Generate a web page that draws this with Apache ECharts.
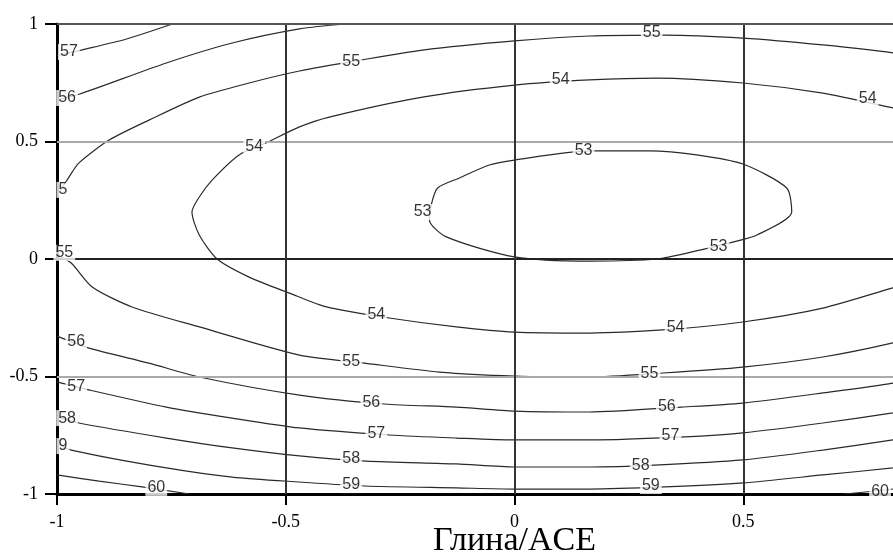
<!DOCTYPE html>
<html><head><meta charset="utf-8">
<script src="https://cdn.jsdelivr.net/npm/echarts@6/dist/echarts.min.js"></script>
<style>html,body{margin:0;padding:0;background:#fff;overflow:hidden}#c{width:893px;height:552px}</style>
</head><body><div id="c"></div>
<script>
// Axis ticks
const xTicks = [-1, -0.5, 0, 0.5, 1];
const yTicks = [-1, -0.5, 0, 0.5, 1];
const xName = 'Глина/ACE';

// Reference lines inside the plot
const darkY = [0];
const lightY = [-0.5, 0.5];
const darkX = [-0.5, 0, 0.5];
const frameY = [1];

// Contour lines (x, y)
const c53 = [[-0.182,0.230],[-0.168,0.302],[-0.120,0.345],[-0.055,0.400],[0,0.421],[0.164,0.460],[0.295,0.460],[0.398,0.443],[0.499,0.404],[0.595,0.302],[0.606,0.200],[0.530,0.102],[0.477,0.072],[0.405,0.038],[0.311,0],[0.164,-0.009],[0,0.009],[-0.149,0.094],[-0.186,0.166],[-0.182,0.230]];
const c54 = [[1.0,-0.03],[0.827,-0.123],[0.674,-0.209],[0.499,-0.268],[0.324,-0.302],[0.164,-0.315],[0,-0.311],[-0.127,-0.289],[-0.274,-0.251],[-0.411,-0.204],[-0.492,-0.145],[-0.580,-0.077],[-0.650,0],[-0.689,0.102],[-0.705,0.200],[-0.689,0.264],[-0.661,0.336],[-0.602,0.443],[-0.543,0.494],[-0.470,0.562],[-0.405,0.604],[-0.201,0.689],[0,0.740],[0.164,0.762],[0.311,0.770],[0.499,0.749],[0.674,0.706],[0.799,0.655],[0.827,0.643],[1.0,0.56]];
const c55a = [[-1,0.272],[-0.978,0.336],[-0.952,0.409],[-0.886,0.506],[-0.799,0.591],[-0.689,0.689],[-0.580,0.749],[-0.470,0.800],[-0.335,0.847],[-0.201,0.889],[0,0.928],[0.164,0.949],[0.328,0.953],[0.499,0.940],[0.674,0.911],[0.827,0.877],[1.0,0.82]];
const c55b = [[-1,0.017],[-0.969,-0.017],[-0.923,-0.119],[-0.836,-0.204],[-0.689,-0.289],[-0.470,-0.409],[-0.328,-0.443],[-0.164,-0.481],[0,-0.498],[0.164,-0.502],[0.324,-0.485],[0.499,-0.460],[0.674,-0.417],[0.827,-0.357],[1.0,-0.27]];
const c56a = [[-1,0.677],[-0.950,0.702],[-0.761,0.834],[-0.617,0.919],[-0.470,0.979],[-0.372,1.0]];
const c56b = [[-1,-0.328],[-0.930,-0.379],[-0.799,-0.443],[-0.689,-0.502],[-0.470,-0.579],[-0.284,-0.617],[-0.127,-0.630],[0,-0.647],[0.164,-0.651],[0.365,-0.630],[0.499,-0.613],[0.674,-0.570],[0.827,-0.528],[1.0,-0.46]];
const c57a = [[-1,0.865],[-0.947,0.889],[-0.85,0.935],[-0.748,1.0]];
const c57b = [[-1,-0.523],[-0.930,-0.557],[-0.761,-0.630],[-0.617,-0.677],[-0.470,-0.719],[-0.274,-0.749],[-0.127,-0.762],[0,-0.770],[0.164,-0.770],[0.372,-0.757],[0.499,-0.740],[0.674,-0.698],[0.827,-0.655],[1.0,-0.60]];
const c58 = [[-1,-0.672],[-0.952,-0.698],[-0.761,-0.762],[-0.617,-0.804],[-0.470,-0.838],[-0.324,-0.860],[-0.127,-0.872],[0,-0.885],[0.164,-0.885],[0.306,-0.877],[0.499,-0.855],[0.674,-0.813],[0.827,-0.770],[1.0,-0.72]];
const c59 = [[-1,-0.783],[-0.969,-0.813],[-0.761,-0.889],[-0.617,-0.928],[-0.470,-0.949],[-0.328,-0.966],[-0.127,-0.974],[0,-0.979],[0.164,-0.979],[0.328,-0.970],[0.499,-0.953],[0.674,-0.919],[0.827,-0.889],[1.0,-0.85]];
const c60a = [[-1,-0.919],[-0.908,-0.945],[-0.814,-0.970],[-0.711,-1.0]];
const c60b = [[0.72,-1.0],[0.83,-0.978],[1.0,-0.93]];

// Contour labels: [x, y, text]
const contourLabels = [
  [-0.201,0.200,'53'],[0.151,0.460,'53'],[0.446,0.051,'53'],
  [-0.569,0.477,'54'],[-0.302,-0.238,'54'],[0.352,-0.294,'54'],[0.101,0.762,'54'],[0.772,0.681,'54'],
  [-0.987,0.294,'5'],[-0.357,0.838,'55'],[0.300,0.962,'55'],[-0.984,0.026,'55'],[-0.357,-0.438,'55'],[0.295,-0.489,'55'],
  [-0.978,0.685,'56'],[-0.958,-0.353,'56'],[-0.313,-0.613,'56'],[0.333,-0.630,'56'],
  [-0.974,0.881,'57'],[-0.958,-0.545,'57'],[-0.302,-0.745,'57'],[0.341,-0.753,'57'],
  [-0.978,-0.677,'58'],[-0.357,-0.851,'58'],[0.276,-0.877,'58'],
  [-0.987,-0.796,'9'],[-0.357,-0.962,'59'],[0.298,-0.966,'59'],
  [-0.783,-0.974,'60'],[0.799,-0.988,'60']
];

const contours = [c53,c54,c55a,c55b,c56a,c56b,c57a,c57b,c58,c59,c60a,c60b];

const chart = echarts.init(document.getElementById('c'), null, {renderer:'canvas'});
const serif = 'Liberation Serif';
const ml = [];
darkY.forEach(v => ml.push({yAxis:v, lineStyle:{color:'#222', width:2, type:'solid'}}));
lightY.forEach(v => ml.push({yAxis:v, lineStyle:{color:'#aaa', width:2, type:'solid'}}));
darkX.forEach(v => ml.push({xAxis:v, lineStyle:{color:'#333', width:2, type:'solid'}}));
frameY.forEach(v => ml.push({yAxis:v, lineStyle:{color:'#555', width:2, type:'solid'}}));

const series = [{
  type:'line', data:[], z:1, silent:true,
  markLine:{silent:true, symbol:['none','none'], label:{show:false}, data:ml, animation:false}
}];
contours.forEach(c => series.push({
  type:'line', data:c, showSymbol:false, symbol:'none', smooth:0.25, z:2, silent:true,
  lineStyle:{color:'#2a2a2a', width:1.2}
}));
series.push({
  type:'scatter', data:contourLabels, symbolSize:1, itemStyle:{color:'rgba(0,0,0,0)'}, z:5, silent:true,
  label:{show:true, position:'inside', formatter:p=>p.data[2], color:'#000',
    fontFamily:'Liberation Sans', fontSize:16, backgroundColor:'#fff', padding:[0,2]}
});

chart.setOption({
  animation:false,
  backgroundColor:'#fff',
  grid:{left:57, top:24, right:-79, bottom:58, containLabel:false, outerBoundsMode:'none'},
  xAxis:{type:'value', min:xTicks[0], max:xTicks[xTicks.length-1], interval:0.5,
    name:xName, nameLocation:'middle', nameGap:30, nameMoveOverlap:false,
    nameTextStyle:{fontFamily:serif, fontSize:34, color:'#000', verticalAlign:'top', lineHeight:34},
    axisLine:{show:true, onZero:false, lineStyle:{color:'#000', width:3}},
    axisTick:{show:true, length:11, lineStyle:{color:'#000', width:2}},
    axisLabel:{margin:19, fontFamily:serif, fontSize:18, color:'#000'},
    splitLine:{show:false}},
  yAxis:{type:'value', min:yTicks[0], max:yTicks[yTicks.length-1], interval:0.5,
    axisLine:{show:true, onZero:false, lineStyle:{color:'#000', width:3}},
    axisTick:{show:true, length:12, lineStyle:{color:'#000', width:2}},
    axisLabel:{margin:19, fontFamily:serif, fontSize:18, color:'#000'},
    splitLine:{show:false}},
  series:series
});
</script></body></html>
